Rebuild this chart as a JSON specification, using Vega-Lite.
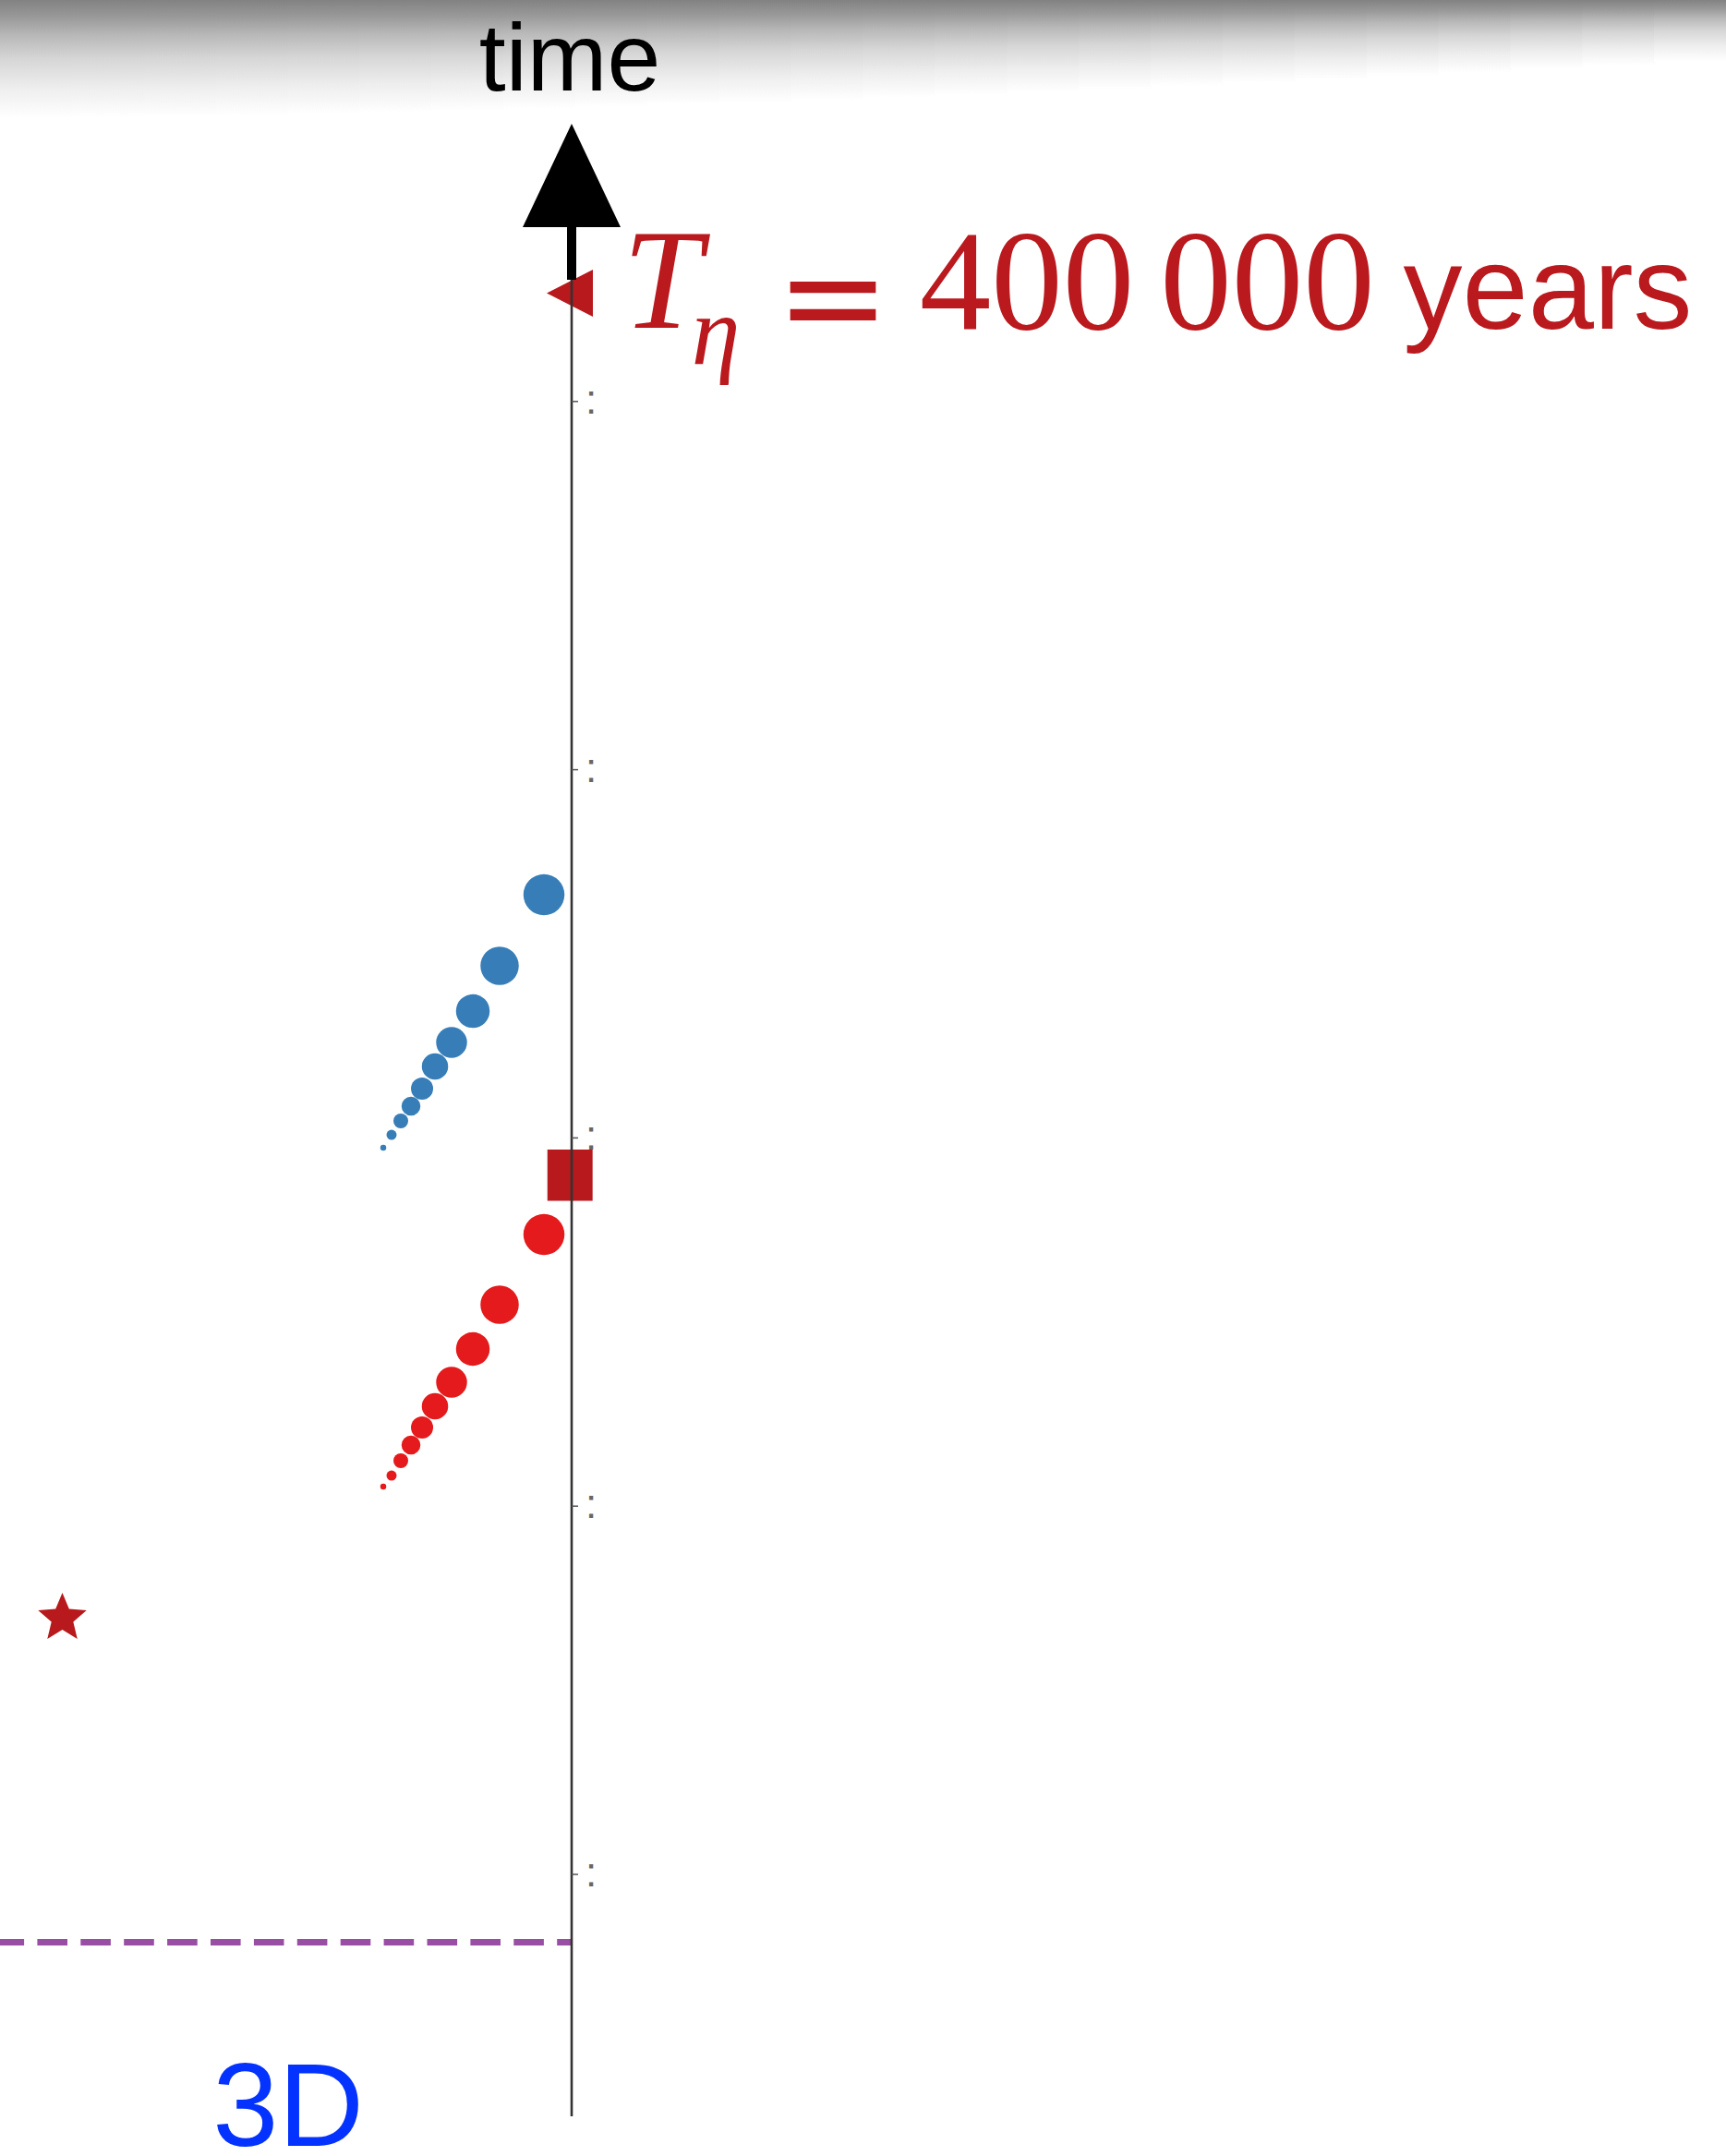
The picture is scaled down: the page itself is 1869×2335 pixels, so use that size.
{
  "$schema": "https://vega.github.io/schema/vega-lite/v6.json",
  "width": 1869,
  "height": 2335,
  "autosize": {"type": "none"},
  "padding": 0,
  "background": "#ffffff",
  "config": {"view": {"stroke": null}},
  "layer": [
    {
      "data": {"values": [
        {"x": -1.5522, "x2": -1.3539, "t": 5.0903, "t2": 4.7695},
        {"x": -1.3569, "x2": -1.1587, "t": 5.0903, "t2": 4.7713},
        {"x": -1.1617, "x2": -0.9634, "t": 5.0903, "t2": 4.7736},
        {"x": -0.9664, "x2": -0.7681, "t": 5.0903, "t2": 4.7766},
        {"x": -0.7711, "x2": -0.5728, "t": 5.0903, "t2": 4.7803},
        {"x": -0.5758, "x2": -0.3776, "t": 5.0903, "t2": 4.7846},
        {"x": -0.3806, "x2": -0.1823, "t": 5.0903, "t2": 4.7891},
        {"x": -0.1853, "x2": 0.0130, "t": 5.0903, "t2": 4.7944},
        {"x": 0.0100, "x2": 0.2083, "t": 5.0903, "t2": 4.7999},
        {"x": 0.2053, "x2": 0.4036, "t": 5.0903, "t2": 4.8056},
        {"x": 0.4006, "x2": 0.5988, "t": 5.0903, "t2": 4.8122},
        {"x": 0.5958, "x2": 0.7941, "t": 5.0903, "t2": 4.8187},
        {"x": 0.7911, "x2": 0.9894, "t": 5.0903, "t2": 4.8257},
        {"x": 0.9864, "x2": 1.1847, "t": 5.0903, "t2": 4.8332},
        {"x": 1.1817, "x2": 1.3799, "t": 5.0903, "t2": 4.8410},
        {"x": 1.3769, "x2": 1.5752, "t": 5.0903, "t2": 4.8490},
        {"x": 1.5722, "x2": 1.7705, "t": 5.0903, "t2": 4.8573},
        {"x": 1.7675, "x2": 1.9658, "t": 5.0903, "t2": 4.8661},
        {"x": 1.9628, "x2": 2.1610, "t": 5.0903, "t2": 4.8751},
        {"x": 2.1580, "x2": 2.3563, "t": 5.0903, "t2": 4.8844},
        {"x": 2.3533, "x2": 2.5516, "t": 5.0903, "t2": 4.8939},
        {"x": 2.5486, "x2": 2.7469, "t": 5.0903, "t2": 4.9039},
        {"x": 2.7439, "x2": 2.9421, "t": 5.0903, "t2": 4.9140},
        {"x": 2.9391, "x2": 3.1344, "t": 5.0903, "t2": 4.9245}
      ]},
      "mark": {"type": "rect", "strokeWidth": 0, "color": {"gradient": "linear", "x1": 0, "y1": 0, "x2": 0, "y2": 1, "stops": [
        {"offset": 0, "color": "#828282"},
        {"offset": 0.15, "color": "#9a9a9a"},
        {"offset": 0.3, "color": "#b8b8b8"},
        {"offset": 0.5, "color": "#d6d6d6"},
        {"offset": 0.75, "color": "#eeeeee"},
        {"offset": 1, "color": "#ffffff"}
      ]}},
      "encoding": {
        "x": {"field": "x", "type": "quantitative", "scale": {"domain": [-1.5522, 3.1344], "nice": false, "zero": false}, "axis": null},
        "x2": {"field": "x2"},
        "y": {"field": "t", "type": "quantitative", "scale": {"domain": [-0.76479, 5.0903], "nice": false, "zero": false}, "axis": null},
        "y2": {"field": "t2"}
      }
    },
    {
      "data": {"values": [{"x": -1.5522, "x2": 0, "t": -0.1843}]},
      "mark": {"type": "rule", "color": "#984EA3", "strokeWidth": 7, "strokeDash": [32.6, 14.3], "strokeDashOffset": 6.5},
      "encoding": {
        "x": {"field": "x", "type": "quantitative", "scale": {"domain": [-1.5522, 3.1344], "nice": false, "zero": false}, "axis": null},
        "x2": {"field": "x2"},
        "y": {"field": "t", "type": "quantitative", "scale": {"domain": [-0.76479, 5.0903], "nice": false, "zero": false}, "axis": null}
      }
    },
    {
      "data": {"values": [
        {"series": "upper", "x": -0.0752, "t": 2.6605, "weight": 44.5},
        {"series": "upper", "x": -0.1956, "t": 2.4674, "weight": 41.5},
        {"series": "upper", "x": -0.2683, "t": 2.3445, "weight": 36.5},
        {"series": "upper", "x": -0.3260, "t": 2.2593, "weight": 33.5},
        {"series": "upper", "x": -0.3711, "t": 2.1941, "weight": 28.5},
        {"series": "upper", "x": -0.4062, "t": 2.1339, "weight": 24},
        {"series": "upper", "x": -0.4363, "t": 2.0863, "weight": 20.5},
        {"series": "upper", "x": -0.4639, "t": 2.0461, "weight": 16},
        {"series": "upper", "x": -0.4890, "t": 2.0085, "weight": 11},
        {"series": "upper", "x": -0.5115, "t": 1.9734, "weight": 6.5},
        {"series": "lower", "x": -0.0752, "t": 1.7377, "weight": 44.5},
        {"series": "lower", "x": -0.1956, "t": 1.5471, "weight": 41.5},
        {"series": "lower", "x": -0.2683, "t": 1.4268, "weight": 36.5},
        {"series": "lower", "x": -0.3260, "t": 1.3365, "weight": 33.5},
        {"series": "lower", "x": -0.3711, "t": 1.2713, "weight": 28.5},
        {"series": "lower", "x": -0.4062, "t": 1.2136, "weight": 24},
        {"series": "lower", "x": -0.4363, "t": 1.1660, "weight": 20.5},
        {"series": "lower", "x": -0.4639, "t": 1.1234, "weight": 16},
        {"series": "lower", "x": -0.4890, "t": 1.0832, "weight": 11},
        {"series": "lower", "x": -0.5115, "t": 1.0532, "weight": 6.5}
      ]},
      "mark": {"type": "circle", "opacity": 1},
      "encoding": {
        "x": {"field": "x", "type": "quantitative", "scale": {"domain": [-1.5522, 3.1344], "nice": false, "zero": false}, "axis": null},
        "y": {"field": "t", "type": "quantitative", "scale": {"domain": [-0.76479, 5.0903], "nice": false, "zero": false}, "axis": null},
        "color": {"field": "series", "type": "nominal", "scale": {"domain": ["upper", "lower"], "range": ["#377EB8", "#E41A1C"]}, "legend": null},
        "size": {"field": "weight", "type": "quantitative", "scale": {"type": "pow", "exponent": 2, "domain": [0, 45], "range": [0, 2025]}, "legend": null}
      }
    },
    {
      "data": {"values": [{"x": -0.0045, "t": 1.8987}]},
      "mark": {"type": "point", "filled": true, "opacity": 1, "color": "#B7191C", "size": 3091, "shape": "M-0.88,-1L0.88,-1L0.88,1L-0.88,1Z"},
      "encoding": {
        "x": {"field": "x", "type": "quantitative", "scale": {"domain": [-1.5522, 3.1344], "nice": false, "zero": false}, "axis": null},
        "y": {"field": "t", "type": "quantitative", "scale": {"domain": [-0.76479, 5.0903], "nice": false, "zero": false}, "axis": null}
      }
    },
    {
      "data": {"values": [{"x": -0.005, "t": 4.2941}]},
      "mark": {"type": "point", "filled": true, "opacity": 1, "color": "#B7191C", "size": 2601, "shape": "M-0.98,0L0.98,-1L0.98,1Z"},
      "encoding": {
        "x": {"field": "x", "type": "quantitative", "scale": {"domain": [-1.5522, 3.1344], "nice": false, "zero": false}, "axis": null},
        "y": {"field": "t", "type": "quantitative", "scale": {"domain": [-0.76479, 5.0903], "nice": false, "zero": false}, "axis": null}
      }
    },
    {
      "data": {"values": [{"x": -1.3829, "t": 0.6956}]},
      "mark": {"type": "point", "filled": true, "opacity": 1, "color": "#B7191C", "size": 3047, "shape": "M0,-1L0.2645,-0.364L0.951,-0.309L0.428,0.139L0.588,0.809L0,0.45L-0.588,0.809L-0.428,0.139L-0.951,-0.309L-0.2645,-0.364Z"},
      "encoding": {
        "x": {"field": "x", "type": "quantitative", "scale": {"domain": [-1.5522, 3.1344], "nice": false, "zero": false}, "axis": null},
        "y": {"field": "t", "type": "quantitative", "scale": {"domain": [-0.76479, 5.0903], "nice": false, "zero": false}, "axis": null}
      }
    },
    {
      "data": {"values": [{"x": 0, "t": -0.657, "t2": 4.3305}]},
      "mark": {"type": "rule", "color": "#333333", "strokeWidth": 2.6},
      "encoding": {
        "x": {"field": "x", "type": "quantitative", "scale": {"domain": [-1.5522, 3.1344], "nice": false, "zero": false}, "axis": null},
        "y": {"field": "t", "type": "quantitative", "scale": {"domain": [-0.76479, 5.0903], "nice": false, "zero": false}, "axis": null},
        "y2": {"field": "t2"}
      }
    },
    {
      "data": {"values": [
        {"x": 0, "x2": 0.0176, "t": 0},
        {"x": 0, "x2": 0.0176, "t": 1},
        {"x": 0, "x2": 0.0176, "t": 2},
        {"x": 0, "x2": 0.0176, "t": 3},
        {"x": 0, "x2": 0.0176, "t": 4}
      ]},
      "mark": {"type": "rule", "color": "#555555", "strokeWidth": 1.5},
      "encoding": {
        "x": {"field": "x", "type": "quantitative", "scale": {"domain": [-1.5522, 3.1344], "nice": false, "zero": false}, "axis": null},
        "x2": {"field": "x2"},
        "y": {"field": "t", "type": "quantitative", "scale": {"domain": [-0.76479, 5.0903], "nice": false, "zero": false}, "axis": null}
      }
    },
    {
      "data": {"values": [
        {"label": ":", "x": 0.0527, "t": 0},
        {"label": ":", "x": 0.0527, "t": 1},
        {"label": ":", "x": 0.0527, "t": 2},
        {"label": ":", "x": 0.0527, "t": 3},
        {"label": ":", "x": 0.0527, "t": 4}
      ]},
      "mark": {"type": "text", "align": "center", "baseline": "middle", "font": "Liberation Sans", "fontSize": 44, "color": "#666666"},
      "encoding": {
        "x": {"field": "x", "type": "quantitative", "scale": {"domain": [-1.5522, 3.1344], "nice": false, "zero": false}, "axis": null},
        "y": {"field": "t", "type": "quantitative", "scale": {"domain": [-0.76479, 5.0903], "nice": false, "zero": false}, "axis": null},
        "text": {"field": "label"}
      }
    },
    {
      "data": {"values": [{"x": 0, "t": 4.3305, "t2": 4.4734}]},
      "mark": {"type": "rule", "color": "#000000", "strokeWidth": 10},
      "encoding": {
        "x": {"field": "x", "type": "quantitative", "scale": {"domain": [-1.5522, 3.1344], "nice": false, "zero": false}, "axis": null},
        "y": {"field": "t", "type": "quantitative", "scale": {"domain": [-0.76479, 5.0903], "nice": false, "zero": false}, "axis": null},
        "y2": {"field": "t2"}
      }
    },
    {
      "data": {"values": [{"x": 0, "t": 4.6139}]},
      "mark": {"type": "point", "filled": true, "opacity": 1, "color": "#000000", "size": 12544, "shape": "M0,-1L0.946,1L-0.946,1Z"},
      "encoding": {
        "x": {"field": "x", "type": "quantitative", "scale": {"domain": [-1.5522, 3.1344], "nice": false, "zero": false}, "axis": null},
        "y": {"field": "t", "type": "quantitative", "scale": {"domain": [-0.76479, 5.0903], "nice": false, "zero": false}, "axis": null}
      }
    },
    {
      "data": {"values": [{"label": "time", "x": -0.005, "t": 4.8445}]},
      "mark": {"type": "text", "align": "center", "baseline": "alphabetic", "font": "Liberation Sans", "fontSize": 104, "color": "#000000"},
      "encoding": {
        "x": {"field": "x", "type": "quantitative", "scale": {"domain": [-1.5522, 3.1344], "nice": false, "zero": false}, "axis": null},
        "y": {"field": "t", "type": "quantitative", "scale": {"domain": [-0.76479, 5.0903], "nice": false, "zero": false}, "axis": null},
        "text": {"field": "label"}
      }
    },
    {
      "data": {"values": [{"label": "T", "x": 0.2457, "t": 4.2001}]},
      "mark": {"type": "text", "align": "center", "baseline": "alphabetic", "font": "Liberation Serif", "fontStyle": "italic", "fontSize": 154, "color": "#BA191E"},
      "encoding": {
        "x": {"field": "x", "type": "quantitative", "scale": {"domain": [-1.5522, 3.1344], "nice": false, "zero": false}, "axis": null},
        "y": {"field": "t", "type": "quantitative", "scale": {"domain": [-0.76479, 5.0903], "nice": false, "zero": false}, "axis": null},
        "text": {"field": "label"}
      }
    },
    {
      "data": {"values": [{"label": "η", "x": 0.3912, "t": 4.1023}]},
      "mark": {"type": "text", "align": "center", "baseline": "alphabetic", "font": "Liberation Serif", "fontStyle": "italic", "fontSize": 106, "color": "#BA191E"},
      "encoding": {
        "x": {"field": "x", "type": "quantitative", "scale": {"domain": [-1.5522, 3.1344], "nice": false, "zero": false}, "axis": null},
        "y": {"field": "t", "type": "quantitative", "scale": {"domain": [-0.76479, 5.0903], "nice": false, "zero": false}, "axis": null},
        "text": {"field": "label"}
      }
    },
    {
      "data": {"values": [{"label": "=", "x": 0.7096, "t": 4.1575}]},
      "mark": {"type": "text", "align": "center", "baseline": "alphabetic", "font": "DejaVu Sans", "fontSize": 148, "color": "#BA191E"},
      "encoding": {
        "x": {"field": "x", "type": "quantitative", "scale": {"domain": [-1.5522, 3.1344], "nice": false, "zero": false}, "axis": null},
        "y": {"field": "t", "type": "quantitative", "scale": {"domain": [-0.76479, 5.0903], "nice": false, "zero": false}, "axis": null},
        "text": {"field": "label"}
      }
    },
    {
      "data": {"values": [{"label": "400", "x": 1.2362, "t": 4.1976}, {"label": "000", "x": 1.8894, "t": 4.1976}]},
      "mark": {"type": "text", "align": "center", "baseline": "alphabetic", "font": "Liberation Serif", "fontSize": 155, "color": "#BA191E"},
      "encoding": {
        "x": {"field": "x", "type": "quantitative", "scale": {"domain": [-1.5522, 3.1344], "nice": false, "zero": false}, "axis": null},
        "y": {"field": "t", "type": "quantitative", "scale": {"domain": [-0.76479, 5.0903], "nice": false, "zero": false}, "axis": null},
        "text": {"field": "label"}
      }
    },
    {
      "data": {"values": [{"label": "years", "x": 2.6505, "t": 4.1976}]},
      "mark": {"type": "text", "align": "center", "baseline": "alphabetic", "font": "Liberation Sans", "fontSize": 128, "color": "#BA191E"},
      "encoding": {
        "x": {"field": "x", "type": "quantitative", "scale": {"domain": [-1.5522, 3.1344], "nice": false, "zero": false}, "axis": null},
        "y": {"field": "t", "type": "quantitative", "scale": {"domain": [-0.76479, 5.0903], "nice": false, "zero": false}, "axis": null},
        "text": {"field": "label"}
      }
    },
    {
      "data": {"values": [{"label": "3D", "x": -0.7698, "t": -0.7372}]},
      "mark": {"type": "text", "align": "center", "baseline": "alphabetic", "font": "Liberation Sans", "fontSize": 128, "color": "#0433FF"},
      "encoding": {
        "x": {"field": "x", "type": "quantitative", "scale": {"domain": [-1.5522, 3.1344], "nice": false, "zero": false}, "axis": null},
        "y": {"field": "t", "type": "quantitative", "scale": {"domain": [-0.76479, 5.0903], "nice": false, "zero": false}, "axis": null},
        "text": {"field": "label"}
      }
    }
  ]
}
